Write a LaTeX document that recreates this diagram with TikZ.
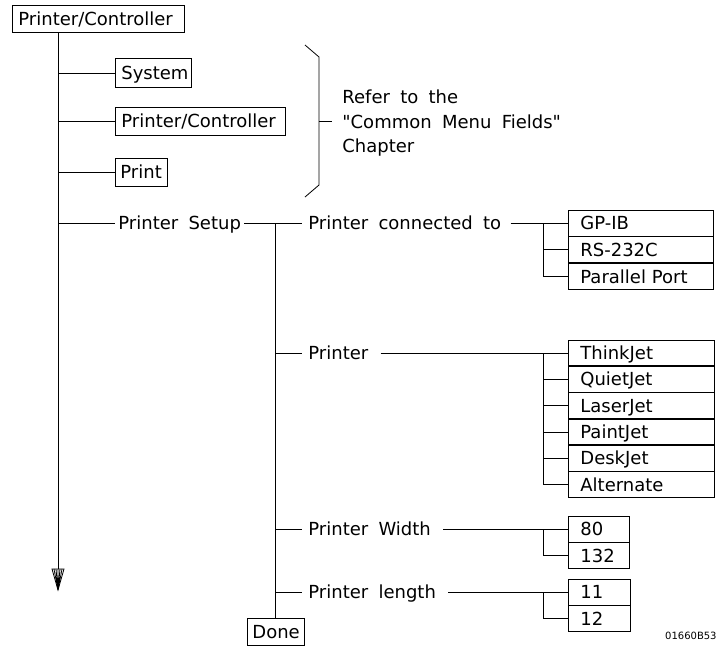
\documentclass[tikz,border=0pt]{standalone}
\usepackage{fontspec}
\newfontfamily\dvf{DejaVu Sans}[WordSpace=1.8]
\begin{document}
\begin{tikzpicture}[x=1pt,y=-1pt, line width=0.8pt,
  every node/.style={font=\dvf\fontsize{18}{24}\selectfont, text height=13pt, text depth=0pt},
  bx/.style={draw, anchor=north west, inner ysep=0pt, align=left},
  stk/.style={bx, inner xsep=12pt},
  lbl/.style={anchor=west, inner xsep=6pt, inner ysep=0pt}]
\useasboundingbox (0,0) rectangle (720,649);

% top box and main line
\node[bx, inner xsep=6pt, text width=160pt, minimum height=27pt] (pc) at (12,5) {Printer/Controller};
\coordinate (mx) at (58,569);
\draw (pc.south -| mx) -- (mx);
\draw (52,569) -- (64,569) -- (58,590) -- cycle;
\draw (54,569) -- (58,590) (56,569) -- (58,590) (58,569) -- (58,590)
      (60,569) -- (58,590) (62,569) -- (58,590);

% common menu fields
\node[bx, inner xsep=6pt, text width=64pt, minimum height=29pt] (sys) at (115,58) {System};
\node[bx, inner xsep=6pt, text width=158pt, minimum height=28pt] (pc2) at (115,107) {Printer/Controller};
\node[bx, inner xsep=5pt, text width=42pt, minimum height=28pt] (prt) at (115,158) {Print};
\draw (sys.west -| mx) -- (sys.west);
\draw (pc2.west -| mx) -- (pc2.west);
\draw (prt.west -| mx) -- (prt.west);

% brace and note
\draw (305,45) -- (319,57) -- (319,185) -- (305,197);
\node[anchor=west, inner sep=0pt] (n1) at (342,97) {Refer to the};
\node[anchor=west, inner sep=0pt] (n2) at (342,121.5) {"Common Menu Fields"};
\node[anchor=west, inner sep=0pt] (n3) at (342,146) {Chapter};
\draw (319,121.5) -- ([xshift=-10pt]n2.west);

% printer setup
\node[lbl, inner xsep=3pt] (ps) at (115,223) {Printer Setup};
\draw (ps.west -| mx) -- (ps.west);
\node[lbl] (pct) at (302,223) {Printer connected to};
\draw (ps.east) -- (pct.west);
\coordinate (jx) at (275,223);
\node[bx, inner xsep=5pt, text width=47pt, minimum height=27pt] (done) at (247,618) {Done};
\draw (jx) -- (done.north -| jx);

% connected to
\node[stk, anchor=west, text width=121pt, minimum height=26pt] (gp) at (568,223) {GP-IB};
\node[stk, text width=121pt, minimum height=26pt] (rs) at (gp.south west) {RS-232C};
\node[stk, text width=121pt, minimum height=26pt] (pp) at (rs.south west) {Parallel Port};
\coordinate (j1) at (543,223);
\draw ([xshift=3pt]pct.east) -- (gp.west);
\draw (j1) |- (rs.west);
\draw (j1) |- (pp.west);

% printer
\node[lbl] (pr) at (302,353) {Printer};
\draw (pr.west -| jx) -- (pr.west);
\node[stk, anchor=west, text width=122pt, minimum height=25.5pt] (tj) at (568,353) {ThinkJet};
\node[stk, text width=122pt, minimum height=25.5pt] (qj) at (tj.south west) {QuietJet};
\node[stk, text width=122pt, minimum height=25.5pt] (lj) at (qj.south west) {LaserJet};
\node[stk, text width=122pt, minimum height=25.5pt] (pj) at (lj.south west) {PaintJet};
\node[stk, text width=122pt, minimum height=25.5pt] (dj) at (pj.south west) {DeskJet};
\node[stk, text width=122pt, minimum height=25.5pt] (al) at (dj.south west) {Alternate};
\coordinate (j2) at (543,353);
\draw ([xshift=6pt]pr.east) -- (tj.west);
\draw (j2) |- (qj.west);
\draw (j2) |- (lj.west);
\draw (j2) |- (pj.west);
\draw (j2) |- (dj.west);
\draw (j2) |- (al.west);

% printer width
\node[lbl] (pw) at (302,529) {Printer Width};
\draw (pw.west -| jx) -- (pw.west);
\node[stk, anchor=west, text width=37pt, minimum height=26pt] (w80) at (568,529) {80};
\node[stk, text width=37pt, minimum height=26pt] (w132) at (w80.south west) {132};
\coordinate (j3) at (543,529);
\draw ([xshift=6pt]pw.east) -- (w80.west);
\draw (j3) |- (w132.west);

% printer length
\node[lbl] (pl) at (302,592) {Printer length};
\draw (pl.west -| jx) -- (pl.west);
\node[stk, anchor=west, text width=38pt, minimum height=26pt] (l11) at (568,592) {11};
\node[stk, text width=38pt, minimum height=26pt] (l12) at (l11.south west) {12};
\coordinate (j4) at (543,592);
\draw ([xshift=6pt]pl.east) -- (l11.west);
\draw (j4) |- (l12.west);

% figure id
\node[anchor=east, inner sep=0pt, font=\dvf\fontsize{10}{12}\selectfont, text height=7.3pt] (fid) at (717,636) {01660B53};
\end{tikzpicture}
\end{document}
